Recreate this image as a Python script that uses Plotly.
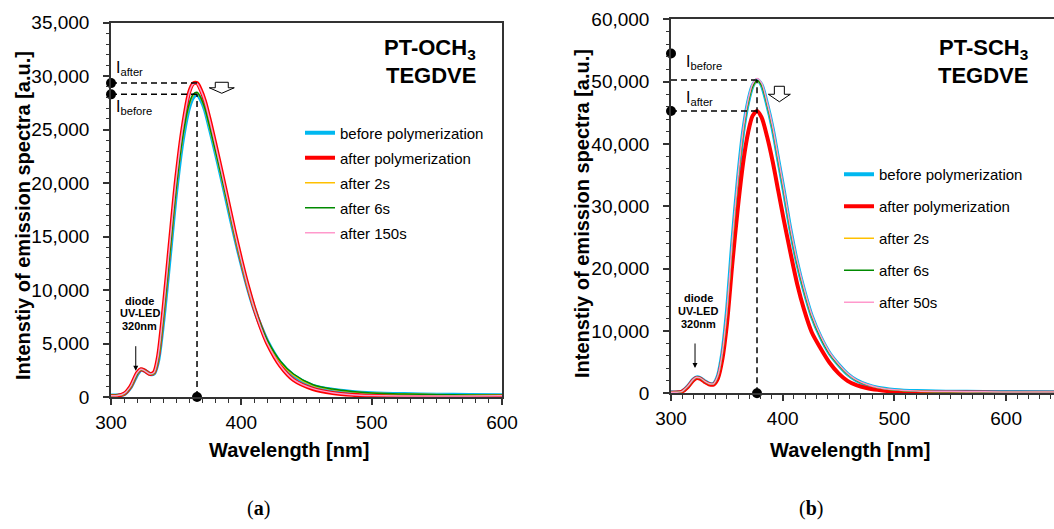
import plotly.graph_objects as go

# ---------------- data ----------------
wl_a = [300, 305, 310, 315, 320, 323, 326, 330, 333, 336, 340, 345, 350, 355, 360, 363, 366, 369, 372,
        376, 380, 385, 390, 395, 400, 405, 410, 415, 420, 430, 440, 455, 470, 485, 500, 525, 550, 575, 600]
a_before = [150, 150, 250, 900, 2100, 2550, 2450, 2150, 2200, 3300, 7000, 13000, 19200, 24000, 27100, 28000,
            28300, 27800, 26900, 25000, 23000, 20400, 17700, 15000, 12500, 10200, 8200, 6600, 5200, 3200,
            2000, 1050, 680, 480, 360, 270, 220, 190, 170]
a_after = [100, 120, 300, 1000, 2250, 2600, 2450, 2150, 2300, 3700, 7900, 14200, 20400, 25200, 28500, 29300,
           29350, 28700, 27700, 25800, 23700, 21000, 18200, 15400, 12800, 10400, 8300, 6500, 5000, 2900,
           1600, 750, 380, 200, 120, 80, 70, 80, 90]
a_2s = [140, 150, 260, 920, 2120, 2560, 2450, 2150, 2210, 3350, 7150, 13200, 19400, 24200, 27300, 28200,
        28450, 27900, 26950, 25000, 23000, 20400, 17700, 15000, 12500, 10200, 8200, 6600, 5200, 3250,
        2050, 1080, 700, 490, 370, 280, 230, 200, 170]
a_6s = [150, 160, 270, 930, 2130, 2570, 2460, 2160, 2220, 3400, 7250, 13300, 19500, 24300, 27400, 28300,
        28500, 27950, 27000, 25100, 23100, 20500, 17800, 15100, 12600, 10300, 8300, 6700, 5300, 3350,
        2150, 1150, 740, 510, 380, 280, 220, 190, 170]
a_150s = [110, 130, 310, 1000, 2240, 2590, 2440, 2150, 2290, 3680, 7850, 14150, 20350, 25150, 28450, 29250,
          29300, 28650, 27650, 25750, 23650, 20950, 18150, 15350, 12750, 10350, 8250, 6480, 5000, 2920,
          1630, 780, 400, 220, 140, 100, 90, 100, 110]

wl_b = [300, 305, 310, 315, 320, 323, 326, 330, 334, 338, 342, 346, 350, 355, 360, 365, 369, 373, 377, 381,
        386, 391, 396, 401, 407, 413, 419, 426, 434, 442, 450, 458, 466, 475, 485, 500, 520, 550, 580, 610, 645]
b_before = [150, 150, 300, 1100, 2200, 2550, 2450, 1950, 1550, 1500, 2800, 6500, 13000, 24500, 34500, 42500,
            46700, 49300, 50250, 49500, 46400, 42500, 37500, 32500, 26200, 20900, 16600, 12400, 9000, 6400,
            4600, 3100, 2100, 1400, 900, 550, 350, 260, 220, 200, 180]
b_after = [100, 120, 280, 1000, 2100, 2450, 2350, 1850, 1450, 1400, 2400, 5500, 11000, 21000, 30000, 37500,
           41800, 44500, 45300, 44300, 41200, 37200, 32500, 27800, 22500, 17500, 13500, 9800, 7200, 4900,
           3200, 2000, 1300, 850, 550, 250, 150, 120, 110, 100, 100]
b_2s = [140, 150, 290, 1080, 2180, 2540, 2440, 1940, 1540, 1490, 2750, 6400, 12900, 24300, 34300, 42300,
        46500, 49100, 50100, 49400, 46300, 42400, 37400, 32400, 26100, 20800, 16500, 12300, 8950, 6350,
        4550, 3080, 2080, 1390, 890, 540, 340, 250, 210, 190, 170]
b_6s = [150, 160, 300, 1090, 2190, 2550, 2450, 1950, 1550, 1500, 2780, 6450, 12950, 24400, 34400, 42400,
        46600, 49200, 50200, 49450, 46350, 42450, 37450, 32450, 26150, 20850, 16550, 12350, 8980, 6380,
        4580, 3090, 2090, 1395, 895, 545, 345, 255, 215, 195, 175]
b_50s = [160, 170, 320, 1120, 2230, 2580, 2480, 1970, 1570, 1520, 2850, 6600, 13200, 24800, 34800, 42800,
         47000, 49600, 50500, 49800, 46700, 42800, 37800, 32800, 26500, 21200, 16900, 12600, 9200, 6550,
         4700, 3200, 2150, 1450, 930, 570, 360, 270, 230, 210, 190]

names_a = ["before polymerization", "after polymerization", "after 2s", "after 6s", "after 150s"]
names_b = ["before polymerization", "after polymerization", "after 2s", "after 6s", "after 50s"]
label_dot_b = 54500   # the I_before marker dot drawn beside its label in panel (b)

# ---------------- styles ----------------
FONT = "Liberation Sans, Arial, sans-serif"
colors = ["#00B8F0", "#FF0000", "#FFC000", "#008A00", "#FF99CC"]
widths = [4, 4, 1.5, 1.5, 1.5]
W, H = 1054, 529

def px(X):
    return X / W

def py(Y):
    return (H - Y) / H

fig = go.Figure()

series_a = [a_before, a_after, a_2s, a_6s, a_150s]
series_b = [b_before, b_after, b_2s, b_6s, b_50s]

for i, (nm, ys) in enumerate(zip(names_a, series_a)):
    fig.add_trace(go.Scatter(x=wl_a, y=ys, name=nm, mode="lines", line=dict(color=colors[i], width=widths[i], shape="spline", smoothing=0.8),
                             xaxis="x", yaxis="y", legend="legend", legendgroup="a%d" % i))
for i, (nm, ys) in enumerate(zip(names_b, series_b)):
    fig.add_trace(go.Scatter(x=wl_b, y=ys, name=nm, mode="lines", line=dict(color=colors[i], width=widths[i], shape="spline", smoothing=0.8),
                             xaxis="x2", yaxis="y2", legend="legend2", legendgroup="b%d" % i))

def peak(wl, ys):
    m = max(ys)
    return wl[ys.index(m)], m

dash = "6px,4px"
# panel a guides
pa_wl, Ia_before = peak(wl_a, a_before)
_, Ia_after = peak(wl_a, a_after)
for lvl in (Ia_after, Ia_before):
    fig.add_trace(go.Scatter(x=[wl_a[0], pa_wl], y=[lvl, lvl], mode="lines", line=dict(color="black", width=1.5, dash=dash),
                             showlegend=False, xaxis="x", yaxis="y", hoverinfo="skip"))
fig.add_trace(go.Scatter(x=[pa_wl, pa_wl], y=[0, Ia_before], mode="lines", line=dict(color="black", width=1.5, dash=dash),
                         showlegend=False, xaxis="x", yaxis="y", hoverinfo="skip"))
fig.add_trace(go.Scatter(x=[wl_a[0], wl_a[0], pa_wl], y=[Ia_after, Ia_before, 0], mode="markers",
                         marker=dict(color="black", size=10), cliponaxis=False, showlegend=False, xaxis="x", yaxis="y", hoverinfo="skip"))

# panel b guides
pb_wl, Ib_before = peak(wl_b, b_before)
_, Ib_after = peak(wl_b, b_after)
for lvl in (Ib_before, Ib_after):
    fig.add_trace(go.Scatter(x=[wl_b[0], pb_wl], y=[lvl, lvl], mode="lines", line=dict(color="black", width=1.5, dash=dash),
                             showlegend=False, xaxis="x2", yaxis="y2", hoverinfo="skip"))
fig.add_trace(go.Scatter(x=[pb_wl, pb_wl], y=[0, Ib_before], mode="lines", line=dict(color="black", width=1.5, dash=dash),
                         showlegend=False, xaxis="x2", yaxis="y2", hoverinfo="skip"))
fig.add_trace(go.Scatter(x=[wl_b[0], wl_b[0], pb_wl], y=[label_dot_b, Ib_after, 0], mode="markers",
                         marker=dict(color="black", size=10), cliponaxis=False, showlegend=False, xaxis="x2", yaxis="y2", hoverinfo="skip"))

axis_common = dict(showline=True, linecolor="#333333", linewidth=1.5, ticks="outside", tickcolor="#333333",
                   tickwidth=1.5, ticklen=6, showgrid=False, zeroline=False, automargin=False,
                   tickfont=dict(family=FONT, size=19, color="black"))

fig.update_layout(
    template="none",
    width=W, height=H, margin=dict(l=0, r=0, t=0, b=0, pad=0, autoexpand=False),
    paper_bgcolor="white", plot_bgcolor="white",
    font=dict(family=FONT, color="black"),
    xaxis=dict(axis_common, domain=[px(111), px(502)], range=[300, 600], dtick=100, mirror=True, anchor="y",
               minor=dict(dtick=10, ticks="outside", ticklen=4, tickcolor="#333333", tickwidth=1),
               ticklabelstandoff=1),
    yaxis=dict(axis_common, domain=[py(397), py(22.7)], range=[0, 35000], dtick=5000, tickformat=",d", mirror=True, anchor="x",
               minor=dict(dtick=1000, ticks="outside", ticklen=3, tickcolor="#333333", tickwidth=1),
               ticklabelstandoff=10),
    xaxis2=dict(axis_common, domain=[px(671), 1.0], range=[300, 300 + (W - 671) / 1.117], dtick=100, mirror=True, anchor="y2",
                minor=dict(dtick=10, ticks="outside", ticklen=4, tickcolor="#333333", tickwidth=1),
                ticklabelstandoff=1),
    yaxis2=dict(axis_common, domain=[py(393.3), py(19.3)], range=[0, 60000], dtick=10000, tickformat=",d", mirror=False, anchor="x2",
                minor=dict(dtick=2000, ticks="outside", ticklen=3, tickcolor="#333333", tickwidth=1),
                ticklabelstandoff=10),
    legend=dict(x=px(300), y=py(116.5), xanchor="left", yanchor="top", font=dict(family=FONT, size=15, color="black"),
                tracegroupgap=2.5, bgcolor="rgba(0,0,0,0)"),
    legend2=dict(x=px(839), y=py(158), xanchor="left", yanchor="top", font=dict(family=FONT, size=15, color="black"),
                 tracegroupgap=9.5, bgcolor="rgba(0,0,0,0)"),
)

ann = []
def text(X, Y, t, size, bold=False, xanchor="center", family=FONT, angle=0):
    ann.append(dict(xref="paper", yref="paper", x=px(X), y=py(Y), text=("<b>%s</b>" % t) if bold else t,
                    showarrow=False, xanchor=xanchor, yanchor="middle", textangle=angle,
                    font=dict(family=family, size=size, color="black")))

ytitle = "Intenstiy of emission spectra [a.u.]"
text(23, 216, ytitle, 20, bold=True, angle=-90)
text(582, 214, ytitle, 20, bold=True, angle=-90)
text(289, 450, "Wavelength [nm]", 20, bold=True)
text(850, 450, "Wavelength [nm]", 20, bold=True)
text(478, 49, "PT-OCH<sub>3</sub>", 22, bold=True, xanchor="right")
text(478, 75, "TEGDVE", 22, bold=True, xanchor="right")
text(1030, 49, "PT-SCH<sub>3</sub>", 22, bold=True, xanchor="right")
text(1030, 75, "TEGDVE", 22, bold=True, xanchor="right")
text(114, 68, "I<sub>after</sub>", 16, xanchor="left")
text(114, 108, "I<sub>before</sub>", 16, xanchor="left")
text(684, 62, "I<sub>before</sub>", 16, xanchor="left")
text(684, 98, "I<sub>after</sub>", 16, xanchor="left")
for X, Y0 in ((139.5, 300.7), (698.3, 298.3)):
    for k, t in enumerate(["diode", "UV-LED", "320nm"]):
        text(X, Y0 + 12.7 * k, t, 11, bold=True)
text(258, 508, "(<b>a</b>)", 20, family="Liberation Serif, Times New Roman, serif")
text(811, 508, "(<b>b</b>)", 20, family="Liberation Serif, Times New Roman, serif")

# small arrows pointing at the UV-LED band
ann.append(dict(xref="x", yref="y", x=319, y=2460, text="", showarrow=True, ax=0, ay=-26, arrowhead=2,
                arrowsize=1, arrowwidth=1, arrowcolor="black"))
ann.append(dict(xref="x2", yref="y2", x=321.5, y=4060, text="", showarrow=True, ax=0, ay=-26, arrowhead=2,
                arrowsize=1, arrowwidth=1, arrowcolor="black"))
fig.update_layout(annotations=ann)

# hollow down arrows
shapes = [
    dict(type="path", xref="x", yref="y", xsizemode="pixel", ysizemode="pixel", xanchor=385, yanchor=28400,
         path="M0,0 L-12.5,5.5 L-6.5,5.5 L-6.5,11 L6.5,11 L6.5,5.5 L12.5,5.5 Z",
         line=dict(color="black", width=1), fillcolor="white"),
    dict(type="path", xref="x2", yref="y2", xsizemode="pixel", ysizemode="pixel", xanchor=397, yanchor=46770,
         path="M0,0 L-11,7.5 L-5,7.5 L-5,15.5 L5,15.5 L5,7.5 L11,7.5 Z",
         line=dict(color="black", width=1), fillcolor="white"),
]
fig.update_layout(shapes=shapes)

fig.write_html("out.html")
